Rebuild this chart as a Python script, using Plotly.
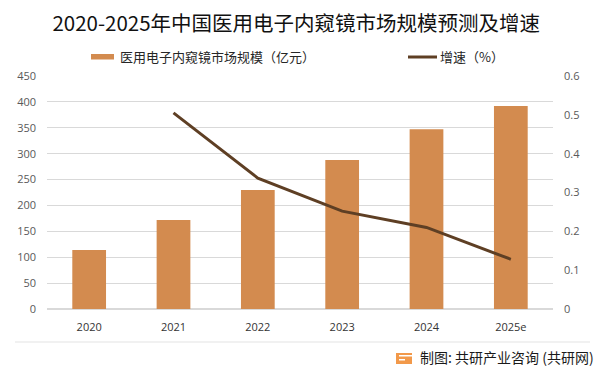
import plotly.graph_objects as go

years = ["2020", "2021", "2022", "2023", "2024", "2025e"]
market_size = [114, 172, 230, 288, 347, 392]          # 亿元
growth_rate = [None, 0.505, 0.337, 0.252, 0.210, 0.128]  # 增速

title_text = "2020-2025年中国医用电子内窥镜市场规模预测及增速"
bar_name = "医用电子内窥镜市场规模（亿元）"
line_name = "增速（%）"
source_text = "制图: 共研产业咨询 (共研网)"

bar_color = "#D38B4F"
line_color = "#5E3F24"
cjk = "Noto Sans CJK SC"
tick_font = dict(family="Open Sans, Noto Sans CJK SC", size=11, color="#595959")

fig = go.Figure()
fig.add_trace(go.Bar(x=years, y=market_size, name=bar_name, marker_color=bar_color,
                     marker_line_width=0, yaxis="y", showlegend=False))
fig.add_trace(go.Scatter(x=years, y=growth_rate, name=line_name, mode="lines",
                         line=dict(color=line_color, width=3), yaxis="y2",
                         connectgaps=False, showlegend=False))

W, H = 601, 374
L, R, T, B = 47, 48, 76, 65


def ax(xpix):
    return (xpix - L) / (W - L - R)


def ay(ypix):
    return ((H - ypix) - B) / (H - T - B)


shapes = [
    # legend swatches
    dict(type="rect", xref="paper", yref="paper", x0=ax(91), x1=ax(114),
         y0=ay(59.5), y1=ay(54), fillcolor=bar_color, line_width=0),
    dict(type="line", xref="paper", yref="paper", x0=ax(408), x1=ax(437),
         y0=ay(57), y1=ay(57), line=dict(color=line_color, width=3)),
    # footer separator
    dict(type="line", xref="paper", yref="paper", x0=ax(15), x1=ax(590),
         y0=ay(342), y1=ay(342), line=dict(color="#E3E3E3", width=1)),
    # logo
    dict(type="rect", xref="paper", yref="paper", x0=ax(396), x1=ax(412),
         y0=ay(364), y1=ay(353), fillcolor="#F2994A", line_width=0),
    dict(type="rect", xref="paper", yref="paper", x0=ax(399), x1=ax(412),
         y0=ay(356.5), y1=ay(355), fillcolor="white", line_width=0),
    dict(type="rect", xref="paper", yref="paper", x0=ax(399), x1=ax(405),
         y0=ay(360.5), y1=ay(359), fillcolor="white", line_width=0),
]

annotations = [
    dict(text=bar_name, x=ax(118), y=ay(57), xref="paper", yref="paper", xanchor="left",
         yanchor="middle", showarrow=False, font=dict(family=cjk, size=13, color="#262626")),
    dict(text=line_name, x=ax(438), y=ay(57), xref="paper", yref="paper", xanchor="left",
         yanchor="middle", showarrow=False, font=dict(family=cjk, size=13, color="#262626")),
    dict(text=source_text, x=ax(418), y=ay(357), xref="paper", yref="paper", xanchor="left",
         yanchor="middle", showarrow=False, font=dict(family=cjk, size=14, color="#1a1a1a")),
]

fig.update_layout(
    width=W, height=H,
    margin=dict(l=L, r=R, t=T, b=B, pad=0),
    paper_bgcolor="white", plot_bgcolor="white",
    title=dict(text=title_text, x=0.493, xanchor="center", y=1 - 24 / H, yanchor="middle",
               font=dict(family=cjk, size=20.5, color="#111111")),
    bargap=0.6,
    showlegend=False,
    xaxis=dict(type="category", showgrid=False, showline=False, zeroline=False,
               tickfont=dict(family="Open Sans, Noto Sans CJK SC", size=11, color="#333333"),
               ticklabelstandoff=10),
    yaxis=dict(range=[0, 450], dtick=50, showgrid=True, gridcolor="#D9D9D9", gridwidth=1,
               zeroline=True, zerolinecolor="#D9D9D9", showline=False, tickfont=tick_font,
               ticklabelstandoff=10),
    yaxis2=dict(range=[0, 0.6], dtick=0.1, overlaying="y", side="right", showgrid=False,
                zeroline=False, showline=False, tickfont=tick_font, ticklabelstandoff=10),
    shapes=shapes,
    annotations=annotations,
)

fig.write_html("out.html", config={"displayModeBar": False},
               post_script="document.body.style.margin='0';")
